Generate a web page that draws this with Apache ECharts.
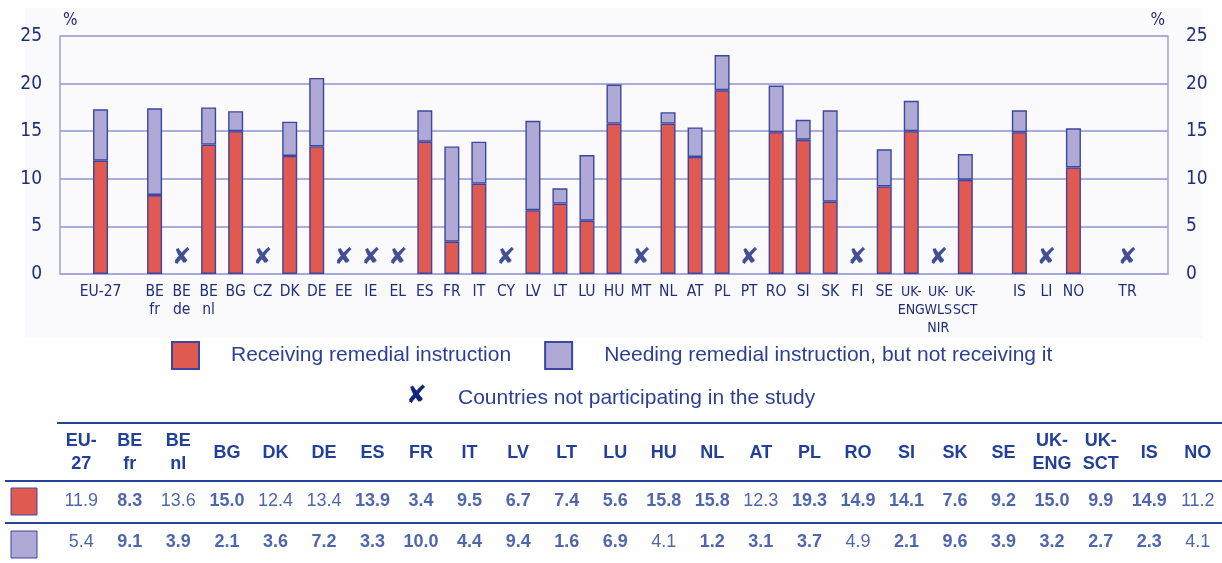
<!DOCTYPE html>
<html>
<head>
<meta charset="utf-8">
<script src="https://cdn.jsdelivr.net/npm/echarts@6/dist/echarts.min.js"></script>
<style>
  html, body { margin: 0; padding: 0; background: #fff; }
  #chart { width: 1222px; height: 563px; }
</style>
</head>
<body>
<div id="chart"></div>
<script>
// countries shown in the table (and with bars)
const tableCountries = ['EU-27', 'BE fr', 'BE nl', 'BG', 'DK', 'DE', 'ES', 'FR', 'IT', 'LV', 'LT', 'LU',
  'HU', 'NL', 'AT', 'PL', 'RO', 'SI', 'SK', 'SE', 'UK-ENG', 'UK-SCT', 'IS', 'NO'];
const receiving = [11.9, 8.3, 13.6, 15.0, 12.4, 13.4, 13.9, 3.4, 9.5, 6.7, 7.4, 5.6,
  15.8, 15.8, 12.3, 19.3, 14.9, 14.1, 7.6, 9.2, 15.0, 9.9, 14.9, 11.2];
const needing = [5.4, 9.1, 3.9, 2.1, 3.6, 7.2, 3.3, 10.0, 4.4, 9.4, 1.6, 6.9,
  4.1, 1.2, 3.1, 3.7, 4.9, 2.1, 9.6, 3.9, 3.2, 2.7, 2.3, 4.1];
// bold cells in the table
const receivingBold = [0, 1, 0, 1, 0, 0, 1, 1, 1, 1, 1, 1, 1, 1, 0, 1, 1, 1, 1, 1, 1, 1, 1, 0];
const needingBold = [0, 1, 1, 1, 1, 1, 1, 1, 1, 1, 1, 1, 0, 1, 1, 1, 0, 1, 1, 1, 1, 1, 1, 0];

// slots along the chart axis ('' = empty gap)
const slots = ['', 'EU-27', '', 'BE fr', 'BE de', 'BE nl', 'BG', 'CZ', 'DK', 'DE', 'EE', 'IE', 'EL',
  'ES', 'FR', 'IT', 'CY', 'LV', 'LT', 'LU', 'HU', 'MT', 'NL', 'AT', 'PL', 'PT', 'RO', 'SI', 'SK',
  'FI', 'SE', 'UK-ENG', 'UK-WLS NIR', 'UK-SCT', '', 'IS', 'LI', 'NO', '', 'TR', ''];
const notParticipating = ['BE de', 'CZ', 'EE', 'IE', 'EL', 'CY', 'MT', 'PT', 'FI', 'UK-WLS NIR', 'LI', 'TR'];
const yTicks = [0, 5, 10, 15, 20, 25];

// UK labels get a smaller rich style so they don't collide
const slotLabels = slots.map(s => s.startsWith('UK-')
  ? '{uk|' + s.replace('UK-', 'UK-\n').replace(' ', '\n') + '}'
  : s.replace(' ', '\n'));
const tableHeaders = tableCountries.map(s => s.replace('-', '-\n').replace(' ', '\n'));

const RED = '#e15a51', LILAC = '#aeaad5', EDGE = '#3c459f';
const NAVY = '#1f2d7b', BLUE = '#22409a', GRIDC = '#a5a7d7';
const COND = '"DejaVu Sans Condensed", "Liberation Sans", sans-serif';
const ARIAL = '"Liberation Sans", Arial, sans-serif';
const CROSS = '✘';

const valueAt = (arr, s) => {
  const i = tableCountries.indexOf(s);
  return i >= 0 ? arr[i] : null;
};
const recvBars = slots.map(s => valueAt(receiving, s));
const needBars = slots.map(s => valueAt(needing, s));
const crosses = [];
slots.forEach((s, i) => { if (notParticipating.includes(s)) crosses.push([i, 1.7]); });

const cell = (arr, bold, row) => arr.map((v, i) => ({
  value: [i, row, v],
  label: { fontWeight: bold[i] ? 'bold' : 'normal' }
}));

const yAxisBase = {
  type: 'value', min: yTicks[0], max: yTicks[yTicks.length - 1], interval: 5,
  name: '%', nameGap: 7,
  axisLine: { show: true, lineStyle: { color: GRIDC, width: 1.6 } },
  axisTick: { show: false },
  splitLine: { lineStyle: { color: GRIDC, width: 1.6 } },
  axisLabel: { color: NAVY, fontSize: 19, fontFamily: COND, margin: 18 }
};

const chart = echarts.init(document.getElementById('chart'));
chart.setOption({
  animation: false,
  backgroundColor: '#fff',
  textStyle: { fontFamily: ARIAL },
  graphic: [
    { type: 'rect', z: -10, shape: { x: 25, y: 8, width: 1177, height: 330 }, style: { fill: '#fafafc' } },
    { type: 'text', left: 406, top: 384, style: { text: CROSS, fontSize: 25, fontFamily: 'DejaVu Sans', fill: '#14247a' } },
    { type: 'text', left: 458, top: 388, style: { text: 'Countries not participating in the study', fontSize: 21, fontFamily: ARIAL, fill: '#2b3f95' } },
    { type: 'line', shape: { x1: 57, y1: 423, x2: 1222, y2: 423 }, style: { stroke: '#23449a', lineWidth: 2 } },
    { type: 'line', shape: { x1: 5, y1: 481, x2: 1222, y2: 481 }, style: { stroke: '#23449a', lineWidth: 2 } },
    { type: 'line', shape: { x1: 5, y1: 523, x2: 1222, y2: 523 }, style: { stroke: '#23449a', lineWidth: 2 } },
    { type: 'rect', shape: { x: 11, y: 488, width: 26, height: 27 }, style: { fill: RED, stroke: EDGE, lineWidth: 1 } },
    { type: 'rect', shape: { x: 11, y: 531, width: 26, height: 27 }, style: { fill: LILAC, stroke: EDGE, lineWidth: 1 } }
  ],
  legend: {
    data: ['Receiving remedial instruction', 'Needing remedial instruction, but not receiving it'],
    left: 171, top: 341, padding: 0,
    itemWidth: 27, itemHeight: 27, itemGap: 33,
    icon: 'rect',
    textStyle: { fontSize: 21, color: '#2b3f95', fontFamily: ARIAL, padding: [0, 0, 0, 27] }
  },
  grid: [
    { left: 60, right: 54, top: 36, bottom: 289 },
    { left: 57, top: 481, width: 1167, height: 84 }
  ],
  xAxis: [
    {
      type: 'category', data: slots, gridIndex: 0,
      axisLine: { lineStyle: { color: GRIDC, width: 1.6 } },
      axisTick: { show: false },
      axisLabel: {
        interval: 0, color: NAVY, fontSize: 15.5, lineHeight: 18, fontFamily: COND, margin: 9,
        formatter: (v, i) => slotLabels[i],
        rich: { uk: { fontSize: 14, lineHeight: 18, fontFamily: COND, color: NAVY } }
      }
    },
    {
      type: 'category', data: tableCountries, gridIndex: 1, position: 'top',
      axisLine: { show: false }, axisTick: { show: false },
      axisLabel: {
        interval: 0, color: BLUE, fontSize: 18, lineHeight: 23, fontWeight: 'bold', fontFamily: ARIAL,
        verticalAlign: 'middle', margin: 28,
        formatter: (v, i) => tableHeaders[i]
      }
    }
  ],
  yAxis: [
    Object.assign({}, yAxisBase, { gridIndex: 0, position: 'left',
      nameTextStyle: { color: NAVY, fontSize: 17, fontFamily: COND, align: 'left', padding: [0, 0, 0, 3] } }),
    Object.assign({}, yAxisBase, { gridIndex: 0, position: 'right',
      nameTextStyle: { color: NAVY, fontSize: 17, fontFamily: COND, align: 'right', padding: [0, 3, 0, 0] } }),
    { type: 'category', gridIndex: 1, data: ['receiving', 'needing'], inverse: true, show: false }
  ],
  series: [
    {
      name: 'Receiving remedial instruction', type: 'bar', stack: 'a', barWidth: 15,
      data: recvBars,
      itemStyle: { color: RED, borderColor: EDGE, borderWidth: 1.4 }
    },
    {
      name: 'Needing remedial instruction, but not receiving it', type: 'bar', stack: 'a', barWidth: 15,
      data: needBars,
      itemStyle: { color: LILAC, borderColor: EDGE, borderWidth: 1.4 }
    },
    {
      name: 'Countries not participating in the study', type: 'scatter', symbolSize: 1,
      itemStyle: { color: 'rgba(0,0,0,0)' },
      data: crosses,
      label: { show: true, position: 'inside', formatter: CROSS, fontSize: 23,
        fontFamily: 'DejaVu Sans', color: '#14247a' }
    },
    {
      type: 'scatter', xAxisIndex: 1, yAxisIndex: 2, symbolSize: 1,
      itemStyle: { color: 'rgba(0,0,0,0)' },
      data: cell(receiving, receivingBold, 0).concat(cell(needing, needingBold, 1)),
      label: { show: true, position: 'inside', color: BLUE, fontSize: 18, fontFamily: ARIAL,
        formatter: p => p.value[2].toFixed(1) }
    }
  ]
});
</script>
</body>
</html>
